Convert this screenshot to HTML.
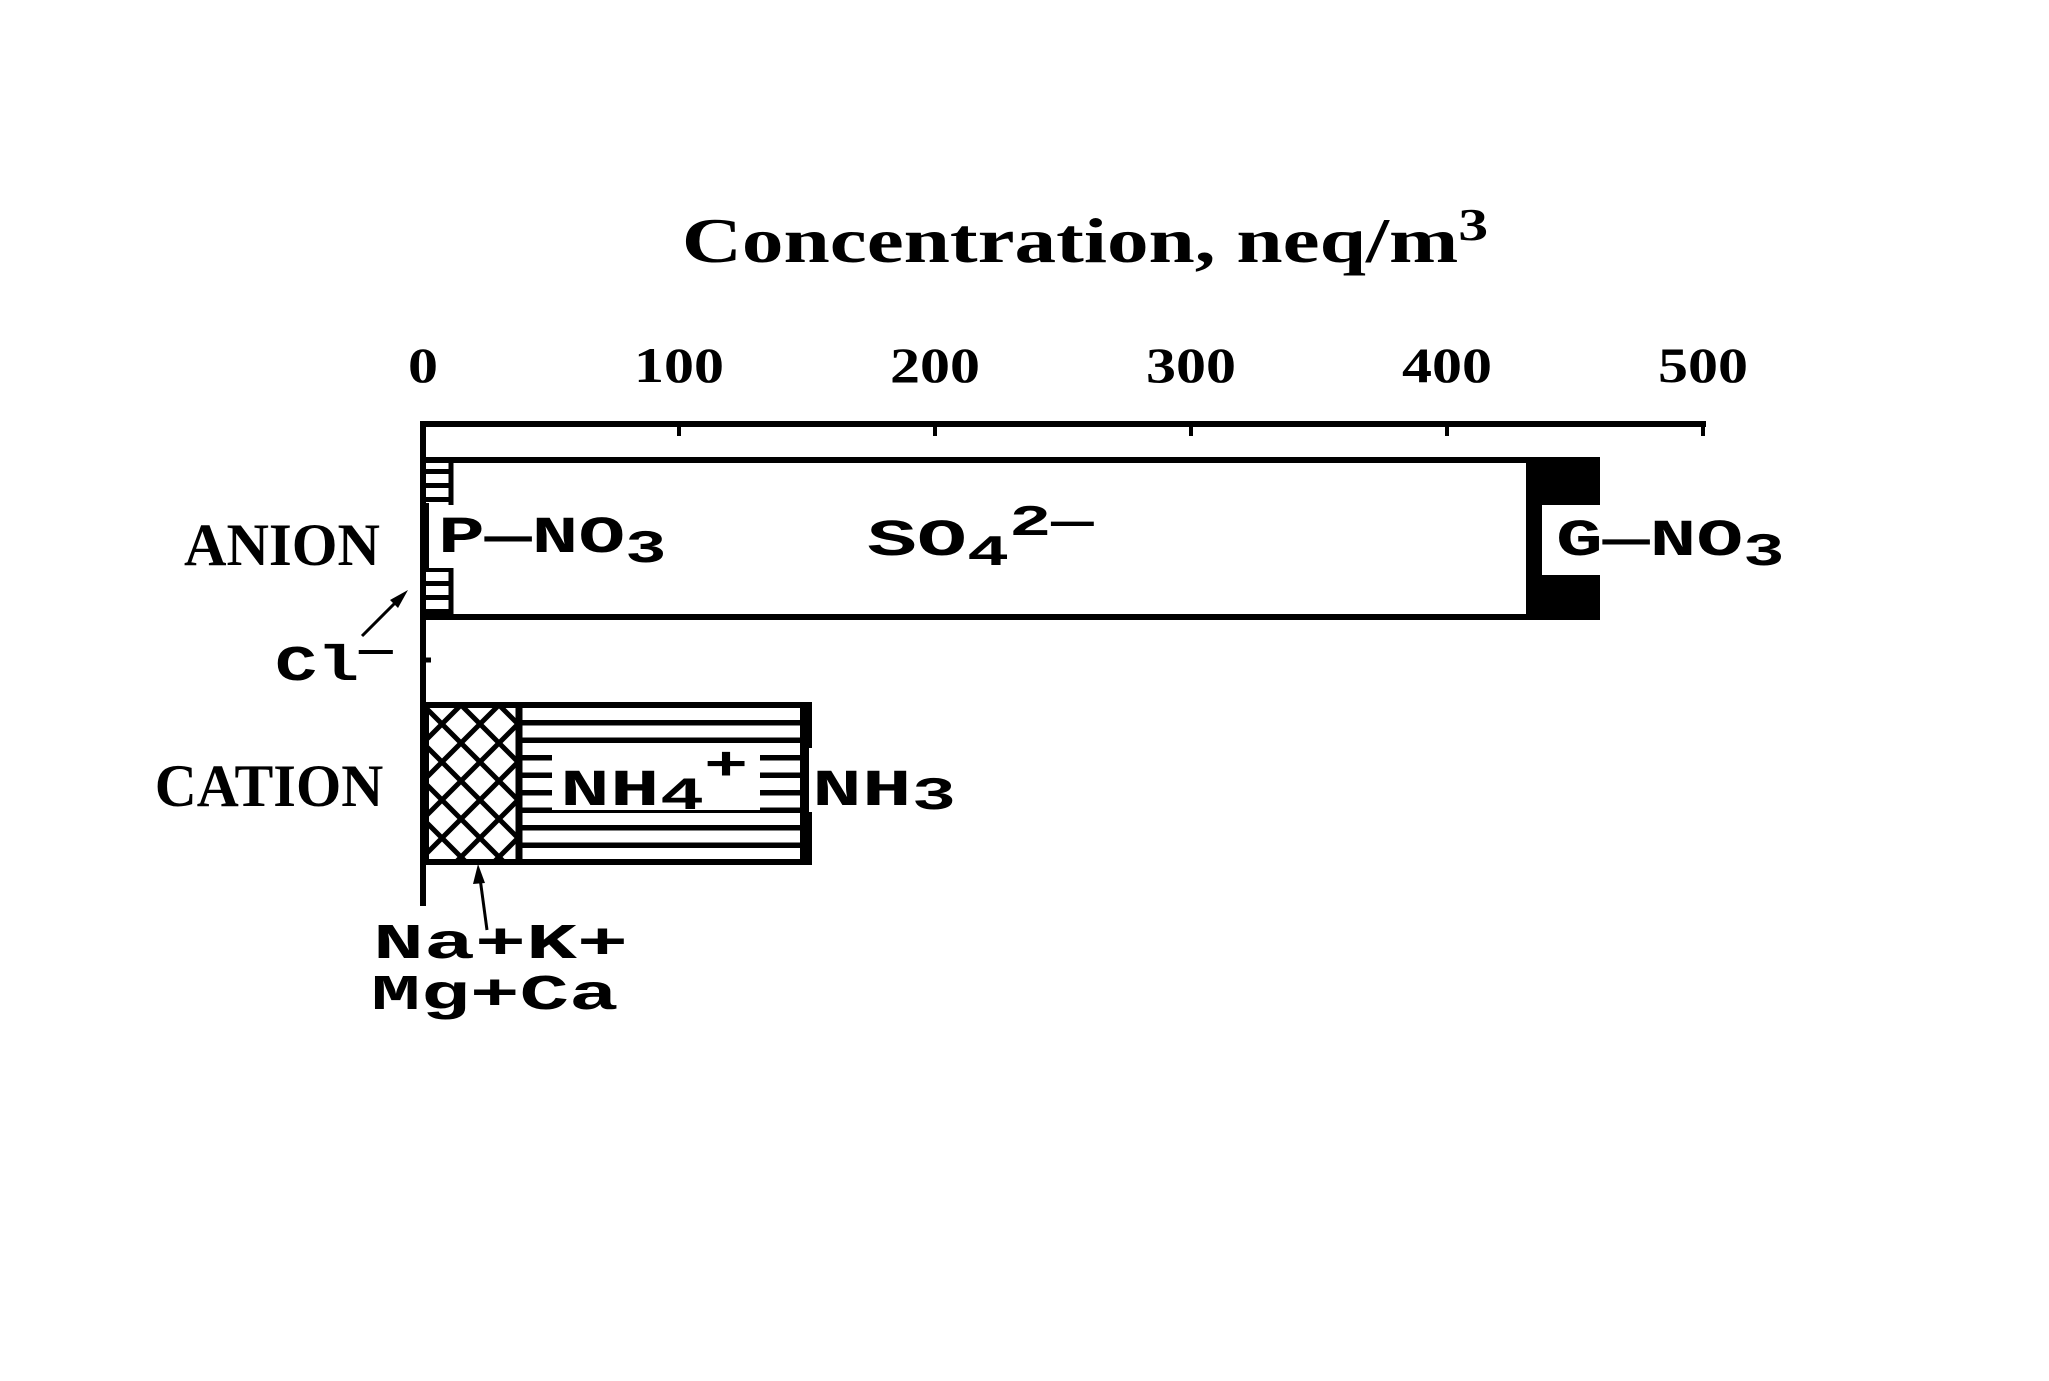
<!DOCTYPE html>
<html><head><meta charset="utf-8"><style>
html,body{margin:0;padding:0;background:#fff;}
svg{display:block;}
.h{font-family:"Liberation Serif",serif;font-weight:bold;fill:#000;}
.m{font-family:"Liberation Mono",monospace;font-weight:bold;fill:#000;}
</style></head><body>
<svg width="2049" height="1381" viewBox="0 0 2049 1381" xmlns="http://www.w3.org/2000/svg">
<defs>
<pattern id="xh" x="423" y="705" width="38" height="38" patternUnits="userSpaceOnUse">
<path d="M0 0L38 38M38 0L0 38" stroke="#000" stroke-width="5"/>
</pattern>
<pattern id="st" x="0" y="708" width="20" height="17.5" patternUnits="userSpaceOnUse">
<rect x="0" y="12" width="20" height="6" fill="#000"/>
</pattern>
<pattern id="pd" x="425" y="460" width="30" height="14" patternUnits="userSpaceOnUse">
<rect x="0" y="0" width="30" height="14" fill="#fff"/>
<rect x="0" y="9" width="30" height="5" fill="#000"/>
</pattern>
</defs>
<!-- title -->
<text class="h" x="0" y="0" font-size="64" text-anchor="middle" transform="translate(1085 262) scale(1.3 1)">Concentration, neq/m<tspan font-size="46" dy="-22">3</tspan></text>
<!-- tick labels -->
<g class="h" font-size="50" text-anchor="middle">
<text transform="translate(423 382) scale(1.2 1)">0</text>
<text transform="translate(679 382) scale(1.2 1)">100</text>
<text transform="translate(935 382) scale(1.2 1)">200</text>
<text transform="translate(1191 382) scale(1.2 1)">300</text>
<text transform="translate(1447 382) scale(1.2 1)">400</text>
<text transform="translate(1703 382) scale(1.2 1)">500</text>
</g>
<!-- axes -->
<line x1="420" y1="424" x2="1706" y2="424" stroke="#000" stroke-width="6"/>
<g stroke="#000" stroke-width="4">
<line x1="679" y1="424" x2="679" y2="436"/><line x1="935" y1="424" x2="935" y2="436"/>
<line x1="1191" y1="424" x2="1191" y2="436"/><line x1="1447" y1="424" x2="1447" y2="436"/>
<line x1="1703" y1="424" x2="1703" y2="436"/>
</g>
<line x1="423" y1="421" x2="423" y2="906" stroke="#000" stroke-width="6"/>
<line x1="423" y1="660" x2="431" y2="660" stroke="#000" stroke-width="5"/>
<!-- anion bar -->
<rect x="426" y="460" width="1171" height="157" fill="#fff" stroke="#000" stroke-width="6"/>
<rect x="426" y="463" width="24" height="40" fill="url(#pd)"/>
<rect x="426" y="568" width="24" height="46" fill="url(#pd)"/>
<line x1="451" y1="463" x2="451" y2="505" stroke="#000" stroke-width="5"/>
<line x1="451" y1="568" x2="451" y2="614" stroke="#000" stroke-width="5"/>
<path d="M1526 458H1600V618H1526Z" fill="#000"/>
<rect x="1542" y="505" width="60" height="70" fill="#fff"/>
<text class="m" font-size="52" transform="translate(438 552) scale(1.5 1)">P&#8212;NO<tspan font-size="46" dy="10">3</tspan></text>
<text class="m" font-size="52" transform="translate(867 555) scale(1.6 1)">SO<tspan font-size="44" dy="10">4</tspan><tspan font-size="44" dy="-30">2&#8212;</tspan></text>
<text class="m" font-size="52" transform="translate(1556 555) scale(1.5 1)">G&#8212;NO<tspan font-size="46" dy="10">3</tspan></text>
<text class="h" font-size="60" text-anchor="middle" transform="translate(282 565) scale(0.98 1)">ANION</text>
<text class="m" font-size="50" transform="translate(275 680) scale(1.4 1)">Cl<tspan font-size="40" dy="-18">&#8212;</tspan></text>
<line x1="362" y1="636" x2="400" y2="598" stroke="#000" stroke-width="3"/>
<path d="M408 590L390 600L398 608Z" fill="#000"/>
<!-- cation bar -->
<rect x="423" y="705" width="95" height="157" fill="url(#xh)"/>
<rect x="518" y="705" width="285" height="157" fill="url(#st)"/>
<rect x="426" y="705" width="380" height="157" fill="none" stroke="#000" stroke-width="6"/>
<line x1="519" y1="705" x2="519" y2="862" stroke="#000" stroke-width="7"/>
<path d="M800 702H812V748H808V812H812V865H800Z" fill="#000"/>
<rect x="552" y="748" width="208" height="62" fill="#fff"/>
<text class="m" font-size="52" transform="translate(560 805) scale(1.6 1)">NH<tspan font-size="46" dy="4">4</tspan><tspan font-size="46" dy="-30">+</tspan></text>
<text class="m" font-size="52" transform="translate(812 805) scale(1.6 1)">NH<tspan font-size="46" dy="4">3</tspan></text>
<text class="h" font-size="60" text-anchor="middle" transform="translate(269 806) scale(0.97 1)">CATION</text>
<line x1="487" y1="930" x2="480" y2="878" stroke="#000" stroke-width="3"/>
<path d="M478 864L473 884L485 883Z" fill="#000"/>
<text class="m" font-size="50" transform="translate(373 958) scale(1.7 1)">Na+K+</text>
<text class="m" font-size="50" transform="translate(371 1009) scale(1.65 1)">Mg+Ca</text>
</svg>
</body></html>
